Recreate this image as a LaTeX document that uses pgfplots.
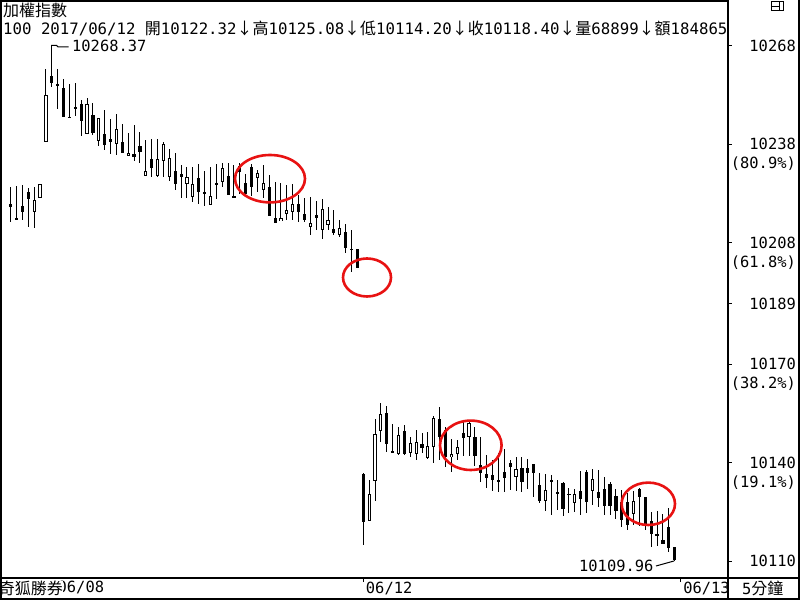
\documentclass[border=0pt]{standalone}
\usepackage{pgfplots}
\pgfplotsset{compat=1.18}
\usepackage{pgfplotstable}
\usepackage{fontspec}
\setmainfont{DejaVu Sans Mono}
\newfontfamily\cjk{Noto Sans CJK TC}
\newcommand\fs{\fontsize{15.4bp}{19bp}\selectfont}
\newcommand\hs{\fontsize{15.7bp}{19bp}\selectfont}
\newcommand\cj{\fontsize{16bp}{19bp}\selectfont\cjk}
\newcommand\twol[2]{\begin{tabular}[t]{@{}r@{}}#1\\#2\end{tabular}}
\definecolor{annot}{RGB}{232,18,18}

\pgfplotstableread{
i O H L C
0 10219.8 10225.1 10214.3 10219.0
1 10215.5 10225.6 10215.3 10215.4
2 10219.2 10225.9 10215.0 10217.2
3 10223.5 10224.8 10212.8 10221.4
4 10217.5 10225.3 10212.6 10221.2
5 10221.6 10225.9 10221.6 10225.9
6 10238.9 10261.3 10238.9 10253.3
7 10259.2 10268.37 10255.8 10257.1
8 10256.7 10261.3 10249.0 10256.2
9 10255.7 10258.4 10246.6 10246.6
10 10246.6 10256.7 10246.4 10246.5
11 10249.9 10257.2 10246.9 10249.0
12 10250.7 10252.0 10240.8 10245.4
13 10241.2 10252.3 10241.2 10250.5
14 10247.1 10251.0 10241.2 10241.7
15 10239.3 10246.4 10237.7 10246.4
16 10241.5 10248.6 10236.4 10238.2
17 10239.8 10246.1 10235.2 10238.9
18 10238.2 10247.4 10234.9 10243.0
19 10238.8 10244.6 10235.6 10235.6
20 10234.7 10241.7 10234.5 10235.7
21 10235.2 10244.1 10233.0 10234.3
22 10237.6 10242.0 10232.4 10235.9
23 10228.5 10239.5 10228.4 10229.9
24 10233.6 10239.7 10228.2 10230.9
25 10228.5 10239.7 10228.2 10233.6
26 10233.0 10238.9 10228.2 10238.2
27 10228.0 10236.8 10226.9 10234.1
28 10229.9 10235.7 10224.1 10225.9
29 10229.0 10231.7 10221.5 10228.2
30 10226.1 10231.2 10221.8 10228.0
31 10222.0 10231.4 10220.5 10226.1
32 10228.0 10232.2 10220.0 10223.6
33 10223.3 10229.9 10219.3 10223.2
34 10219.5 10231.2 10219.5 10222.3
35 10226.3 10232.2 10221.3 10225.8
36 10226.6 10232.4 10225.1 10231.0
37 10228.4 10232.4 10222.5 10222.6
38 10222.1 10231.7 10221.5 10222.0
39 10231.7 10232.4 10222.9 10229.7
40 10226.3 10229.2 10222.9 10222.9
41 10231.4 10232.2 10222.2 10225.1
42 10228.0 10230.4 10223.6 10229.4
43 10224.3 10231.7 10221.5 10226.3
44 10225.1 10228.7 10216.1 10216.1
45 10215.5 10226.6 10214.0 10214.1
46 10214.6 10226.3 10214.6 10215.5
47 10216.9 10225.9 10215.0 10217.9
48 10217.4 10225.9 10214.8 10219.9
49 10219.8 10222.5 10214.3 10217.4
50 10216.9 10221.5 10214.3 10215.1
51 10212.6 10222.2 10210.5 10214.1
52 10215.6 10220.9 10211.8 10216.3
53 10211.8 10221.5 10209.2 10218.4
54 10213.5 10219.1 10211.8 10214.8
55 10212.1 10217.9 10210.2 10211.1
56 10210.2 10214.8 10209.7 10212.6
57 10211.1 10213.8 10204.8 10206.4
58 10206.0 10211.8 10198.9 10205.9
59 10205.9 10206.0 10199.9 10200.0
60 10136.9 10136.9 10114.9 10122.0
61 10122.3 10134.8 10122.3 10130.6
62 10134.6 10153.5 10128.5 10149.2
63 10150.0 10158.7 10146.7 10155.3
64 10155.6 10157.6 10143.6 10146.2
65 10143.7 10152.3 10143.3 10143.6
66 10142.9 10151.2 10142.6 10148.7
67 10149.9 10151.8 10142.6 10142.9
68 10143.1 10148.2 10142.1 10146.2
69 10143.1 10150.4 10141.1 10146.7
70 10146.0 10149.4 10143.1 10144.6
71 10141.6 10149.7 10141.4 10145.3
72 10145.0 10154.8 10140.2 10153.8
73 10153.8 10157.4 10141.1 10148.2
74 10150.5 10151.2 10138.8 10142.1
75 10141.9 10147.7 10137.5 10142.9
76 10142.9 10147.2 10141.1 10145.0
77 10149.4 10152.8 10142.3 10148.0
78 10148.2 10152.8 10142.3 10152.6
79 10148.2 10151.1 10139.2 10142.3
80 10139.4 10148.0 10134.3 10137.1
81 10136.9 10142.6 10132.5 10135.4
82 10136.4 10141.0 10131.6 10134.9
83 10134.9 10143.3 10131.3 10134.8
84 10137.4 10144.3 10131.3 10135.7
85 10140.1 10141.0 10131.8 10138.9
86 10135.9 10142.0 10131.6 10138.4
87 10138.7 10142.0 10131.3 10134.3
88 10138.7 10141.2 10132.0 10137.1
89 10140.0 10140.0 10129.6 10137.1
90 10133.6 10136.9 10127.7 10128.5
91 10128.5 10136.9 10125.5 10131.8
92 10134.7 10136.4 10124.2 10134.6
93 10130.8 10135.1 10125.7 10131.3
94 10134.0 10134.3 10123.8 10125.9
95 10130.6 10132.3 10124.7 10130.5
96 10127.7 10132.3 10125.2 10130.6
97 10131.6 10137.9 10124.2 10129.0
98 10137.4 10138.1 10124.7 10128.2
99 10131.6 10138.4 10127.2 10135.4
100 10131.3 10137.9 10126.7 10129.6
101 10132.3 10135.9 10124.2 10126.9
102 10133.8 10134.3 10124.2 10126.9
103 10130.0 10132.3 10123.1 10125.5
104 10128.2 10131.8 10120.5 10122.7
105 10128.2 10130.8 10119.5 10121.0
106 10124.6 10131.6 10121.0 10128.5
107 10132.0 10132.3 10120.7 10129.6
108 10129.6 10129.6 10119.7 10121.0
109 10122.32 10125.08 10114.20 10118.40
110 10118.0 10125.4 10114.6 10117.9
111 10116.4 10124.4 10115.2 10115.4
112 10120.7 10126.4 10112.8 10114.2
113 10114.2 10114.2 10109.96 10110.1
}\data

\begin{document}
\begin{tikzpicture}
\begin{axis}[
  at={(0bp,22bp)}, anchor=south west,
  scale only axis, width=727.5bp, height=578bp,
  xmin=-1.821, xmax=121.99, ymin=10104.73, ymax=10282.52,
  scaled y ticks=false, scaled x ticks=false,
  axis line style={draw=none},
  ytick pos=right, yticklabel pos=right,
  xtick pos=left, xticklabel pos=left,
  tick align=outside,
  major tick length=4bp,
  tick style={black, line width=1bp},
  ytick={10268.37,10238.11,10207.86,10189.17,10170.47,10140.22,10109.96},
  yticklabels={10268,{\twol{10238}{(80.9\%)}},{\twol{10208}{(61.8\%)}},10189,{\twol{10170}{(38.2\%)}},{\twol{10140}{(19.1\%)}},10110},
  yticklabel style={font=\fs, anchor=base east, inner sep=0pt, xshift=64.5bp, yshift=-5.6bp},
  xtick={60,114},
  xticklabels={06/12,06/13},
  xticklabel style={font=\fs, anchor=base west, inner sep=0pt, xshift=2.5bp, yshift=-11bp},
]
% wicks
\addplot [draw=none, fill=none, mark=none, mark size=0pt,
  error bars/.cd, y dir=both, y explicit, error mark=none,
  error bar style={draw=black, line width=1bp, line cap=butt}]
  table [x=i, y expr={(\thisrow{H}+\thisrow{L})/2}, y error expr={(\thisrow{H}-\thisrow{L})/2}] {\data};
% bodies
\addplot [draw=none, fill=none, mark=none, mark size=0pt,
  error bars/.cd, y dir=both, y explicit, error mark=none,
  error bar style={draw=black, line width=3.2bp, line cap=butt}]
  table [x=i, y expr={(\thisrow{O}+\thisrow{C})/2}, y error expr={max(abs(\thisrow{C}-\thisrow{O})/2,0.17)}] {\data};
% hollow interior of rising candles
\addplot [draw=none, fill=none, mark=none, mark size=0pt,
  restrict expr to domain={\thisrow{C}-\thisrow{O}}{0.75:1000},
  error bars/.cd, y dir=both, y explicit, error mark=none,
  error bar style={draw=white, line width=1.2bp, line cap=butt}]
  table [x=i, y expr={(\thisrow{O}+\thisrow{C})/2}, y error expr={(\thisrow{C}-\thisrow{O})/2-0.31}] {\data};
\end{axis}

\begin{scope}[x=1bp,y=-1bp,yshift=600bp]
% header text
\begin{scope}
\clip (0,0) rectangle (727,42);
\node[anchor=base west, inner sep=0pt] at (3,17) {\cj 加權指數};
\node[anchor=base west, inner sep=0pt] at (3,34.8) {\hs 100 2017/06/12 {\cj 開}10122.32{\cj ↓高}10125.08{\cj ↓低}10114.20{\cj ↓收}10118.40{\cj ↓量}68899{\cj ↓額}184865};
\end{scope}
% extreme annotations
\draw[black, line width=1bp] (51,45.5) -- (56.7,45.5) -- (58,47) -- (68.7,47);
\node[anchor=base west, inner sep=0pt] at (72,51.6) {\fs 10268.37};
\draw[black, line width=1bp] (656,566) -- (674,561);
\node[anchor=base west, inner sep=0pt] at (579,572) {\fs 10109.96};
% red ellipses
\draw[annot, line width=2.6bp] (270,178.7) ellipse [x radius=35bp, y radius=23.7bp];
\draw[annot, line width=2.6bp] (367,277.5) ellipse [x radius=24bp, y radius=19bp];
\draw[annot, line width=2.6bp] (470.8,445.3) ellipse [x radius=30.8bp, y radius=24.7bp];
\draw[annot, line width=2.6bp] (648.3,503.8) ellipse [x radius=26.7bp, y radius=21.2bp];
% bottom strip texts
\node[anchor=base west, inner sep=0pt] at (57.5,593) {\fs 06/08};
\node[anchor=base east, inner sep=0pt, fill=white] at (63,594.5) {\cj 奇狐勝券};
\node[anchor=base west, inner sep=0pt] at (742,594.5) {\fs 5{\cj 分鐘}};
% frame
\draw[black, line width=2bp] (1,0) -- (1,600);
\draw[black, line width=2bp] (0,1) -- (728,1);
\draw[black, line width=2bp] (0,599) -- (800,599);
\draw[black, line width=2bp] (799,0) -- (799,600);
\draw[black, line width=1.6bp] (727.8,0) -- (727.8,600);
\draw[black, line width=2bp] (0,578) -- (800,578);
% corner icon
\draw[black, line width=1bp] (771,2) rectangle (783,11);
\draw[black, line width=1bp] (779,2) -- (779,11);
\draw[black, line width=1bp] (771,6.5) -- (779,6.5);
\pgfresetboundingbox
\path[use as bounding box] (0,0) rectangle (800,600);
\end{scope}
\end{tikzpicture}
\end{document}
